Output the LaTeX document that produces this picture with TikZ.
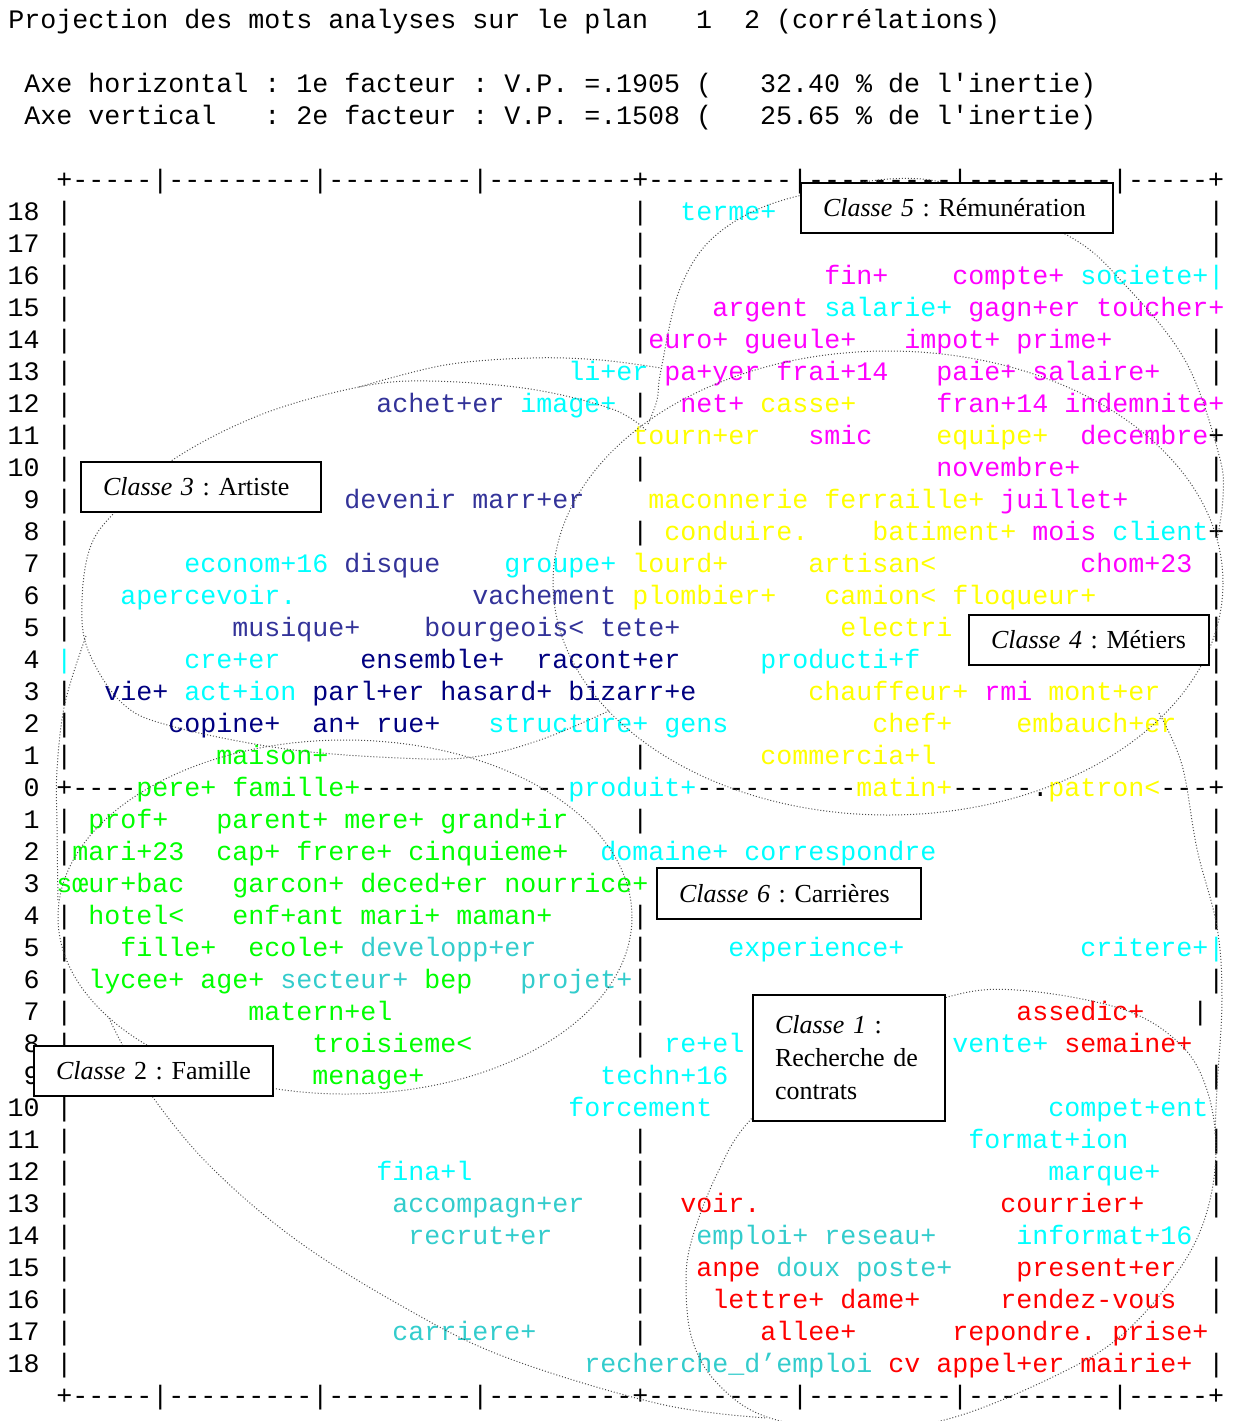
\documentclass[tikz,border=0pt]{standalone}
\usepackage{fontspec}
\setmainfont{Liberation Serif}
\setmonofont{Liberation Mono}

% couleurs des classes
\definecolor{remun}{RGB}{255,0,255}
\definecolor{metier}{RGB}{255,255,0}
\definecolor{famille}{RGB}{0,255,0}
\definecolor{contrat}{RGB}{255,0,0}
\definecolor{carriere}{RGB}{0,255,255}
\definecolor{turquoise}{RGB}{51,204,204}
\definecolor{artiste}{RGB}{51,51,153}
\definecolor{artistefonce}{RGB}{0,0,128}

\newcommand{\listfont}{\ttfamily\fontsize{13.33}{16}\selectfont}

\begin{document}
\begin{tikzpicture}[x=0.5pt, y=-0.5pt,
    word/.style={font=\listfont, anchor=base west, inner sep=0pt},
    num/.style={font=\listfont, anchor=base east, inner sep=0pt},
    classbox/.style={draw, line width=1pt, fill=white, anchor=north west,
        inner xsep=11pt, inner ysep=0pt, align=left,
        font=\fontsize{13}{16.5}\selectfont\frenchspacing},
    cluster/.style={draw=black!70, line width=0.5pt, densely dotted}
]
\useasboundingbox (0,0) rectangle (1234,1421);

% En-tete
\node[word] (titre) at (8,28) {Projection des mots analyses sur le plan~~~1~~2 (corrélations)};
\node[word] (axeh) at (24,92) {Axe horizontal : 1e facteur : V.P. =.1905 (~~~32.40 \% de l'inertie)};
\node[word] (axev) at (24,124) {Axe vertical~~~: 2e facteur : V.P. =.1508 (~~~25.65 \% de l'inertie)};

% Cadre
\node[word] (cadrehaut) at (56,188) {+-----|---------|---------|---------+---------|---------|---------|-----+};
\node[word] (cadrebas) at (56,1404) {+-----|---------|---------|---------+---------|---------|---------|-----+};

\foreach \r in {18,17,...,-18} {
    \pgfmathtruncatemacro\n{abs(\r)}
    \node[num] (n\r) at (40,{796-32*\r}) {\n};
}
\foreach \r in {18,17,16,15,14,13,12,11,10,9,8,7,6,5,3,2,1,-1,-2,-4,-5,-6,-7,-8,-9,-10,-11,-12,-13,-14,-15,-16,-17,-18}
    \node[word] (bg\r) at (56,{796-32*\r}) {|};
\foreach \r in {18,17,16,15,14,12,10,8,1,-1,-4,-5,-6,-7,-8,-11,-12,-13,-14,-15,-16,-17}
    \node[word] (bm\r) at (632,{796-32*\r}) {|};
\foreach \r in {18,17,14,13,10,9,7,6,5,4,3,2,1,-1,-2,-3,-4,-6,-9,-11,-12,-13,-15,-16,-18}
    \node[word] (bd\r) at (1208,{796-32*\r}) {|};
\node[word] (bd11) at (1208,444) {+};
\node[word] (bd8) at (1208,540) {+};
\node[word] (bd-7) at (1192,1020) {|};

% Axe horizontal
\node[word] (h1) at (56,796) {+----};
\node[word] (h2) at (360,796) {-------------};
\node[word] (h3) at (696,796) {----------};
\node[word] (h4) at (952,796) {-----.};
\node[word] (h5) at (1160,796) {---+};

% Mots par classe
\foreach \r/\c/\t in {16/51/fin+, 16/59/compte+, 15/44/argent, 15/60/gagn+er, 15/68/toucher+,
    14/40/euro+, 14/46/gueule+, 14/56/impot+, 14/63/prime+, 13/41/pa+yer, 13/48/frai+14,
    13/58/paie+, 13/64/salaire+, 12/42/net+, 12/58/fran+14, 12/66/indemnite+, 11/50/smic,
    11/67/decembre, 10/58/novembre+, 9/62/juillet+, 8/64/mois, 7/67/chom+23, 3/61/rmi}
    \node[word, text=remun] (w\r-\c) at ({8+16*\c},{796-32*\r}) {\t};

\foreach \r/\c/\t in {18/42/terme+, 16/67/societe+|, 15/51/salarie+, 13/35/li+er, 12/32/image+,
    8/69/client, 7/11/econom+16, 7/31/groupe+, 6/7/apercevoir., 4/3/|, 4/11/cre+er,
    4/47/producti+f, 3/11/act+ion, 2/30/structure+, 2/41/gens, 0/35/produit+,
    -2/37/domaine+, -2/46/correspondre, -5/45/experience+, -5/67/critere+|, -8/41/re+el,
    -8/59/vente+, -9/37/techn+16, -10/35/forcement, -10/65/compet+ent, -11/60/format+ion,
    -12/23/fina+l, -12/65/marque+, -14/63/informat+16}
    \node[word, text=carriere] (w\r-\c) at ({8+16*\c},{796-32*\r}) {\t};

\foreach \r/\c/\t in {-5/22/developp+er, -6/17/secteur+, -6/32/projet+, -13/24/accompagn+er,
    -14/25/recrut+er, -14/43/emploi+, -14/51/reseau+, -15/48/doux, -15/53/poste+,
    -17/24/carriere+, -18/36/recherche\textunderscore d’emploi}
    \node[word, text=turquoise] (w\r-\c) at ({8+16*\c},{796-32*\r}) {\t};

\foreach \r/\c/\t in {12/47/casse+, 11/39/tourn+er, 11/58/equipe+, 9/40/maconnerie,
    9/51/ferraille+, 8/41/conduire., 8/54/batiment+, 7/39/lourd+, 7/50/artisan<,
    6/39/plombier+, 6/51/camion<, 6/59/floqueur+, 5/52/electri, 3/50/chauffeur+,
    3/65/mont+er, 2/54/chef+, 2/63/embauch+er, 1/47/commercia+l, 0/53/matin+, 0/65/patron<}
    \node[word, text=metier] (w\r-\c) at ({8+16*\c},{796-32*\r}) {\t};

\foreach \r/\c/\t in {1/13/maison+, 0/8/pere+, 0/14/famille+, -1/5/prof+, -1/13/parent+,
    -1/21/mere+, -1/27/grand+ir, -2/4/mari+23, -2/13/cap+, -2/18/frere+, -2/25/cinquieme+,
    -3/3/sœur+bac, -3/14/garcon+, -3/22/deced+er, -3/31/nourrice+, -4/5/hotel<,
    -4/14/enf+ant, -4/22/mari+, -4/28/maman+, -5/7/fille+, -5/15/ecole+, -6/5/lycee+,
    -6/12/age+, -6/26/bep, -7/15/matern+el, -8/19/troisieme<, -9/19/menage+}
    \node[word, text=famille] (w\r-\c) at ({8+16*\c},{796-32*\r}) {\t};

\foreach \r/\c/\t in {-7/63/assedic+, -8/66/semaine+, -13/42/voir., -13/62/courrier+,
    -15/43/anpe, -15/63/present+er, -16/44/lettre+, -16/52/dame+, -16/62/rendez-vous,
    -17/47/allee+, -17/59/repondre., -17/69/prise+, -18/55/cv, -18/58/appel+er, -18/67/mairie+}
    \node[word, text=contrat] (w\r-\c) at ({8+16*\c},{796-32*\r}) {\t};

\foreach \r/\c/\t in {12/23/achet+er, 9/21/devenir, 9/29/marr+er, 7/21/disque,
    6/29/vachement, 5/14/musique+, 5/26/bourgeois<, 5/37/tete+}
    \node[word, text=artiste] (w\r-\c) at ({8+16*\c},{796-32*\r}) {\t};

\foreach \r/\c/\t in {4/22/ensemble+, 4/33/racont+er, 3/6/vie+, 3/19/parl+er, 3/27/hasard+,
    3/35/bizarr+e, 2/10/copine+, 2/19/an+, 2/23/rue+}
    \node[word, text=artistefonce] (w\r-\c) at ({8+16*\c},{796-32*\r}) {\t};

% Contours des classes
\draw[cluster] (888,583) ellipse [x radius=335, y radius=232];
\draw[cluster] (345,917) ellipse [x radius=287, y radius=177];
% classe 3
\draw[cluster] plot[smooth, tension=0.6] coordinates {(646,430) (612,409) (530,389) (429,381)
    (359,387) (260,415) (171,461) (114,513) (90,548) (82,602) (88,650) (122,703) (171,726)
    (286,749) (400,758) (473,757) (540,740) (611,710)};
% classe 5
\draw[cluster] plot[smooth, tension=0.6] coordinates {(648,424) (657,400) (661,370) (681,286)
    (721,231) (798,196) (930,180) (1065,234) (1126,286) (1186,362) (1219,455) (1223,497)
    (1217,540)};
% classe 1
\draw[cluster] plot[smooth cycle, tension=0.6] coordinates {(944,998) (1017,990) (1122,1009)
    (1180,1044) (1207,1090) (1216,1152) (1205,1218) (1176,1274) (1122,1335) (1059,1374)
    (955,1417) (860,1432) (767,1417) (717,1383) (692,1339) (686,1283) (692,1239)
    (717,1174) (752,1118) (840,1040)};
% grand contour
\draw[cluster] plot[smooth, tension=0.6] coordinates {(359,387) (445,365) (531,358) (600,360) (661,368)};
\draw[cluster] plot[smooth, tension=0.6] coordinates {(1159,713) (1182,765) (1197,849) (1217,927)
    (1222,1000) (1217,1087) (1215,1135)};
\draw[cluster] plot[smooth, tension=0.6] coordinates {(86,636) (65,703) (57,770) (57,827) (58,900)};
\draw[cluster] plot[smooth, tension=0.6] coordinates {(109,1018) (122,1044) (152,1096) (210,1166)
    (295,1239) (400,1305) (505,1357) (660,1404) (767,1418)};

% Etiquettes des classes
\node[classbox, text width=134pt, minimum height=25pt] (c5) at (800,182) {\textit{Classe 5} : Rémunération};
\node[classbox, text width=98pt, minimum height=25pt] (c3) at (80,461) {\textit{Classe 3} : Artiste};
\node[classbox, text width=98pt, minimum height=25pt] (c4) at (968,614) {\textit{Classe 4} : Métiers};
\node[classbox, text width=110pt, minimum height=25.5pt] (c6) at (656,867) {\textit{Classe 6} : Carrières};
\node[classbox, text width=97.5pt, minimum height=25pt] (c2) at (33,1045) {\textit{Classe} 2 : Famille};
\node[classbox, text width=74pt, minimum height=63pt] (c1) at (752,994) {\textit{Classe 1} :\\Recherche de\\contrats};

\end{tikzpicture}
\end{document}
